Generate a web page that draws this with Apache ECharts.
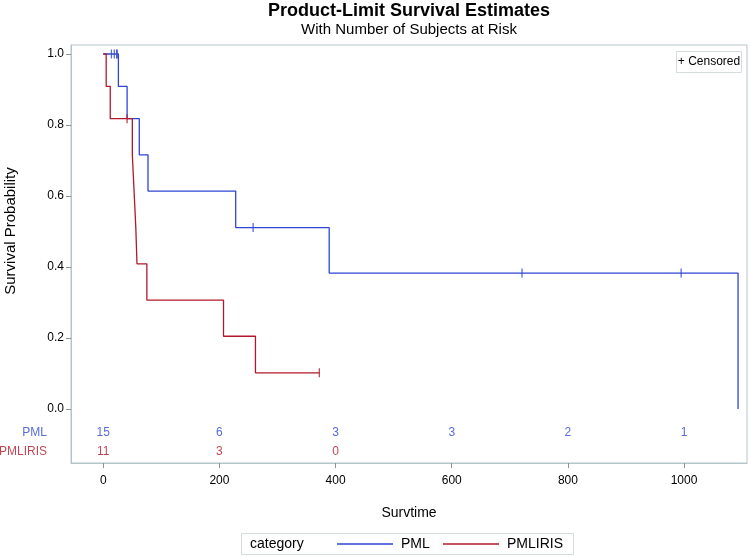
<!DOCTYPE html>
<html><head><meta charset="utf-8">
<script src="https://cdn.jsdelivr.net/npm/echarts@6/dist/echarts.min.js"></script>
<style>html,body{margin:0;padding:0;background:#fff}#c{width:750px;height:557px}</style>
</head><body><div id="c"></div>
<script>
// ---- data ----
const xTicks = [0, 200, 400, 600, 800, 1000];
const yTicks = [0, 0.2, 0.4, 0.6, 0.8, 1.0];
const groups = ['PML', 'PMLIRIS'];
const pmlTimes = [0, 26, 41, 62, 77, 228, 389, 1093];
const pmlSurv = [1, 0.909, 0.818, 0.716, 0.614, 0.511, 0.383, 0];
const pmlEnd = 1093;
const pmlCensorTimes = [14, 19, 23, 24, 258, 721, 995];
const pmlCensorSurv = [1, 1, 1, 1, 0.511, 0.383, 0.383];
const irisTimes = [0, 5, 12, 50, 53, 56, 58, 75, 207, 262];
const irisSurv = [1, 0.909, 0.818, 0.716, 0.614, 0.511, 0.409, 0.307, 0.205, 0.102];
const irisEnd = 372;
const irisCensorTimes = [41, 372];
const irisCensorSurv = [0.818, 0.102];
const riskTimes = [0, 200, 400, 600, 800, 1000];
const pmlAtRisk = [15, 6, 3, 3, 2, 1];
const irisAtRisk = [11, 3, 0];

// ---- style / layout ----
const BLUE = '#2f45d4', RED = '#b2182b', FRAME = '#b4c4c9';
const FONT = '"Liberation Sans", Arial, sans-serif';
const X_MIN = -55.6, X_MAX = 1108.4, Y_MIN = -0.152, Y_MAX = 1.0254;
const ROW_Y = [-0.0676, -0.121];

function steps(times, surv, end) {
  const pts = [];
  for (let i = 0; i < times.length; i++) {
    const next = i + 1 < times.length ? times[i + 1] : end;
    pts.push([times[i], surv[i]]);
    pts.push([next, surv[i]]);
  }
  return pts;
}
function zip(a, b) { return a.map((v, i) => [v, b[i]]); }
function riskData(vals, row) { return vals.map((v, i) => [riskTimes[i], ROW_Y[row], v]); }

const chart = echarts.init(document.getElementById('c'), null, {renderer: 'canvas'});
const lineBase = {type: 'line', symbol: 'none', animation: false};
const censorBase = {type: 'scatter', symbol: 'rect', symbolSize: [1.3, 9], animation: false, z: 5, silent: true};
const riskBase = {type: 'scatter', symbolSize: 0, animation: false, silent: true,
  label: {show: true, position: 'inside', fontFamily: FONT, fontSize: 12, formatter: p => String(p.value[2])}};
const headBase = {type: 'scatter', symbolSize: 0, animation: false, silent: true, clip: false,
  label: {show: true, position: 'left', distance: 24, fontFamily: FONT, fontSize: 12, formatter: p => p.name}};

chart.setOption({
  animation: false,
  textStyle: {fontFamily: FONT},
  grid: {left: 71, right: 3, top: 45, bottom: 94, show: true, borderColor: FRAME, borderWidth: 1},
  xAxis: {
    type: 'value', min: X_MIN, max: X_MAX,
    name: 'Survtime', nameLocation: 'middle', nameGap: 43,
    nameTextStyle: {color: '#000', fontSize: 14, fontFamily: FONT},
    axisLine: {show: true, onZero: false, lineStyle: {color: FRAME}},
    axisTick: {show: true, length: 5, lineStyle: {color: '#8a9599'}, customValues: xTicks},
    axisLabel: {color: '#000', fontSize: 12, margin: 12, customValues: xTicks, formatter: v => String(v)},
    splitLine: {show: false}
  },
  yAxis: {
    type: 'value', min: Y_MIN, max: Y_MAX,
    axisLine: {show: true, onZero: false, lineStyle: {color: FRAME}},
    axisTick: {show: true, length: 5, lineStyle: {color: '#8a9599'}, customValues: yTicks},
    axisLabel: {color: '#000', fontSize: 12, margin: 7, customValues: yTicks, formatter: v => v.toFixed(1)},
    splitLine: {show: false}
  },
  series: [
    Object.assign({}, lineBase, {name: groups[0], data: steps(pmlTimes, pmlSurv, pmlEnd), itemStyle: {color: BLUE}, lineStyle: {width: 1.3, color: BLUE}}),
    Object.assign({}, lineBase, {name: groups[1], data: steps(irisTimes, irisSurv, irisEnd), itemStyle: {color: RED}, lineStyle: {width: 1.3, color: RED}}),
    Object.assign({}, censorBase, {data: zip(pmlCensorTimes, pmlCensorSurv), itemStyle: {color: BLUE}}),
    Object.assign({}, censorBase, {data: zip(irisCensorTimes, irisCensorSurv), itemStyle: {color: RED}}),
    Object.assign({}, riskBase, {data: riskData(pmlAtRisk, 0), label: Object.assign({}, riskBase.label, {color: BLUE})}),
    Object.assign({}, riskBase, {data: riskData(irisAtRisk, 1), label: Object.assign({}, riskBase.label, {color: RED})}),
    Object.assign({}, headBase, {data: [{name: groups[0], value: [X_MIN, ROW_Y[0]]}], label: Object.assign({}, headBase.label, {color: BLUE})}),
    Object.assign({}, headBase, {data: [{name: groups[1], value: [X_MIN, ROW_Y[1]]}], label: Object.assign({}, headBase.label, {color: RED})})
  ],
  graphic: [
    {type: 'text', style: {text: 'Product-Limit Survival Estimates', x: 409, y: 11, textAlign: 'center', textVerticalAlign: 'middle', font: 'bold 18px ' + FONT, fill: '#000'}},
    {type: 'text', style: {text: 'With Number of Subjects at Risk', x: 409, y: 30, textAlign: 'center', textVerticalAlign: 'middle', font: '15px ' + FONT, fill: '#000'}},
    {type: 'text', rotation: Math.PI / 2, x: 11, y: 231, style: {text: 'Survival Probability', textAlign: 'center', textVerticalAlign: 'middle', font: '15px ' + FONT, fill: '#000'}},
    {type: 'rect', shape: {x: 676.5, y: 51.5, width: 65, height: 21}, style: {fill: '#fff', stroke: '#d5dcde', lineWidth: 1}, z: 10},
    {type: 'text', style: {text: '+ Censored', x: 709, y: 62, textAlign: 'center', textVerticalAlign: 'middle', font: '12px ' + FONT, fill: '#000'}, z: 11},
    {type: 'rect', shape: {x: 241.5, y: 533.5, width: 332, height: 21}, style: {fill: '#fff', stroke: '#d5dcde', lineWidth: 1}},
    {type: 'text', style: {text: 'category', x: 250, y: 544, textVerticalAlign: 'middle', font: '14px ' + FONT, fill: '#000'}},
    {type: 'line', shape: {x1: 337, y1: 544, x2: 393, y2: 544}, style: {stroke: BLUE, lineWidth: 1.3}},
    {type: 'text', style: {text: groups[0], x: 401, y: 544, textVerticalAlign: 'middle', font: '14px ' + FONT, fill: '#000'}},
    {type: 'line', shape: {x1: 443, y1: 544, x2: 499, y2: 544}, style: {stroke: RED, lineWidth: 1.3}},
    {type: 'text', style: {text: groups[1], x: 507, y: 544, textVerticalAlign: 'middle', font: '14px ' + FONT, fill: '#000'}}
  ]
});
</script></body></html>
